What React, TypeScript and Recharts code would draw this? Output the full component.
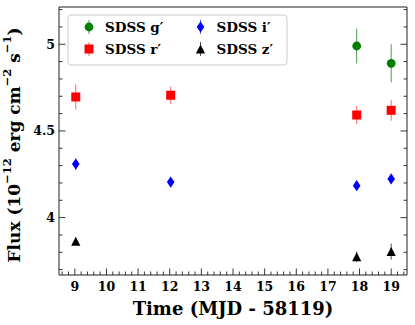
import { ScatterChart, Scatter, XAxis, YAxis, ErrorBar } from 'recharts'

// time (MJD - 58119), flux (1e-12 erg cm^-2 s^-1), 1-sigma error
const G_TIME = [17.91, 19.0]
const G_FLUX = [4.99, 4.89]
const G_ERR = [0.1, 0.11]

const R_TIME = [9.03, 12.03, 17.91, 19.0]
const R_FLUX = [4.696, 4.706, 4.592, 4.619]
const R_ERR = [0.072, 0.05, 0.052, 0.06]

const I_TIME = [9.03, 12.03, 17.91, 19.0]
const I_FLUX = [4.309, 4.205, 4.184, 4.223]
const I_ERR = [0.032, 0.025, 0.022, 0.025]

const Z_TIME = [9.03, 17.91, 19.0]
const Z_FLUX = [3.863, 3.774, 3.804]
const Z_ERR = [0.02, 0.03, 0.046]

const X_MAJOR = [9, 10, 11, 12, 13, 14, 15, 16, 17, 18, 19]
const Y_MAJOR = [4, 4.5, 5]
const Y_LABELS = ['4', '4.5', '5']

const X_DOMAIN = [8.5, 19.5]
const Y_DOMAIN = [3.669, 5.215]

const FONT = '"DejaVu Serif", serif'

const toRows = (t: number[], f: number[], e: number[]) =>
  t.map((time, i) => ({ time, flux: f[i], err: e[i] }))

// minor ticks: 0.2 on x, 0.1 on y
const xTicks: number[] = []
for (let k = 43; k <= 97; k++) xTicks.push(Math.round(k * 2) / 10)
const yTicks: number[] = []
for (let k = 37; k <= 52; k++) yTicks.push(k / 10)

const isMajor = (v: number, list: number[]) => list.some(m => Math.abs(m - v) < 1e-6)

type Shape = 'circle' | 'square' | 'diamond' | 'triangle'

function Marker({ cx, cy, shape, color }: { cx: number; cy: number; shape: Shape; color: string }) {
  if (shape === 'circle') return <circle cx={cx} cy={cy} r={4.4} fill={color} />
  if (shape === 'square') return <rect x={cx - 4.5} y={cy - 4.5} width={9} height={9} fill={color} />
  if (shape === 'diamond')
    return <polygon points={`${cx},${cy - 5.6} ${cx + 3.8},${cy} ${cx},${cy + 5.6} ${cx - 3.8},${cy}`} fill={color} />
  return <polygon points={`${cx},${cy - 4.6} ${cx + 4.6},${cy + 4.4} ${cx - 4.6},${cy + 4.4}`} fill={color} />
}

const SERIES = [
  { name: 'SDSS g′', data: toRows(G_TIME, G_FLUX, G_ERR), color: '#008000', bar: '#4a9a4a', shape: 'circle' as Shape },
  { name: 'SDSS r′', data: toRows(R_TIME, R_FLUX, R_ERR), color: '#ff0000', bar: '#ff6666', shape: 'square' as Shape },
  { name: 'SDSS i′', data: toRows(I_TIME, I_FLUX, I_ERR), color: '#0000ff', bar: '#5555ff', shape: 'diamond' as Shape },
  { name: 'SDSS z′', data: toRows(Z_TIME, Z_FLUX, Z_ERR), color: '#000000', bar: '#555555', shape: 'triangle' as Shape },
]

const BottomTick = (props: any) => {
  const { x, y, payload } = props
  const major = isMajor(payload.value, X_MAJOR)
  return (
    <g>
      <line x1={x} y1={y} x2={x} y2={y - (major ? 6.5 : 3.5)} stroke="#222" strokeWidth={0.9} />
      {major && (
        <text x={x} y={y + 16} textAnchor="middle" fontFamily={FONT} fontWeight="bold" fontSize={12.5} fill="#000">
          {payload.value}
        </text>
      )}
    </g>
  )
}

const TopTick = (props: any) => {
  const { x, y, payload } = props
  const major = isMajor(payload.value, X_MAJOR)
  return <line x1={x} y1={y} x2={x} y2={y + (major ? 6.5 : 3.5)} stroke="#222" strokeWidth={0.9} />
}

const LeftTick = (props: any) => {
  const { x, y, payload } = props
  const idx = Y_MAJOR.findIndex(m => Math.abs(m - payload.value) < 1e-6)
  return (
    <g>
      <line x1={x} y1={y} x2={x + (idx >= 0 ? 6.5 : 3.5)} y2={y} stroke="#222" strokeWidth={0.9} />
      {idx >= 0 && (
        <text x={x - 4} y={y + 4.5} textAnchor="end" fontFamily={FONT} fontWeight="bold" fontSize={12.5} fill="#000">
          {Y_LABELS[idx]}
        </text>
      )}
    </g>
  )
}

const RightTick = (props: any) => {
  const { x, y, payload } = props
  const major = isMajor(payload.value, Y_MAJOR)
  return <line x1={x} y1={y} x2={x - (major ? 6.5 : 3.5)} y2={y} stroke="#222" strokeWidth={0.9} />
}

const YTitle = (props: any) => {
  const { viewBox } = props
  const cx = 13.5
  const cy = viewBox.y + viewBox.height / 2 + 4
  const sup = { fontSize: 11.5 }
  return (
    <text
      x={cx}
      y={cy}
      transform={`rotate(-90, ${cx}, ${cy})`}
      textAnchor="middle"
      dominantBaseline="central"
      fontFamily={FONT}
      fontWeight="bold"
      fontSize={17}
      fill="#000"
    >
      <tspan>Flux (10</tspan>
      <tspan dy={-7} {...sup}>−12</tspan>
      <tspan dy={7}> erg cm</tspan>
      <tspan dy={-7} {...sup}>−2</tspan>
      <tspan dy={7}> s</tspan>
      <tspan dy={-7} {...sup}>−1</tspan>
      <tspan dy={7}>)</tspan>
    </text>
  )
}

function LegendBox() {
  const cols = [22, 133.5]
  const rows = [13, 35]
  return (
    <svg width={222} height={52} style={{ position: 'absolute', left: 67, top: 14 }}>
      <rect x={1} y={1} width={219} height={50} rx={3} fill="rgba(255,255,255,0.85)" stroke="#cccccc" strokeWidth={1} />
      {SERIES.map((s, i) => {
        const cx = cols[Math.floor(i / 2)]
        const cy = rows[i % 2]
        return (
          <g key={s.name}>
            <line x1={cx} y1={cy - 7} x2={cx} y2={cy + 7} stroke={s.bar} strokeWidth={1} />
            <Marker cx={cx} cy={cy} shape={s.shape} color={s.color} />
            <text x={cx + 16} y={cy + 5} fontFamily={FONT} fontWeight="bold" fontSize={13.5} fill="#000">
              {s.name}
            </text>
          </g>
        )
      })}
    </svg>
  )
}

export default function App() {
  return (
    <div style={{ position: 'absolute', left: 0, top: 0, width: 415, height: 325, background: '#fff' }}>
      <ScatterChart width={415} height={325} margin={{ top: 6, right: 7, bottom: 0, left: 0 }}>
        <XAxis
          dataKey="time"
          type="number"
          domain={X_DOMAIN}
          ticks={xTicks}
          interval={0}
          allowDataOverflow
          height={50}
          tickSize={0}
          tickMargin={0}
          tickLine={false}
          axisLine={{ stroke: '#222', strokeWidth: 1 }}
          tick={BottomTick}
          label={{ value: 'Time (MJD - 58119)', position: 'insideBottom', offset: 10, fontFamily: FONT, fontWeight: 'bold', fontSize: 18, fill: '#000' }}
        />
        <XAxis
          xAxisId="top"
          orientation="top"
          type="number"
          domain={X_DOMAIN}
          ticks={xTicks}
          interval={0}
          allowDataOverflow
          height={1}
          tickSize={0}
          tickMargin={0}
          tickLine={false}
          axisLine={{ stroke: '#222', strokeWidth: 1 }}
          tick={TopTick}
        />
        <YAxis
          dataKey="flux"
          type="number"
          domain={Y_DOMAIN}
          ticks={yTicks}
          interval={0}
          allowDataOverflow
          width={59}
          tickSize={0}
          tickMargin={0}
          tickLine={false}
          axisLine={{ stroke: '#222', strokeWidth: 1 }}
          tick={LeftTick}
          label={{ content: YTitle }}
        />
        <YAxis
          yAxisId="right"
          orientation="right"
          type="number"
          domain={Y_DOMAIN}
          ticks={yTicks}
          interval={0}
          allowDataOverflow
          width={1}
          tickSize={0}
          tickMargin={0}
          tickLine={false}
          axisLine={{ stroke: '#222', strokeWidth: 1 }}
          tick={RightTick}
        />
        {SERIES.map(s => (
          <Scatter
            key={s.name}
            name={s.name}
            data={s.data}
            fill={s.color}
            isAnimationActive={false}
            shape={(p: any) => <Marker cx={p.cx} cy={p.cy} shape={s.shape} color={s.color} />}
          >
            <ErrorBar dataKey="err" direction="y" width={0} stroke={s.bar} strokeWidth={1} />
          </Scatter>
        ))}
      </ScatterChart>
      <LegendBox />
    </div>
  )
}
